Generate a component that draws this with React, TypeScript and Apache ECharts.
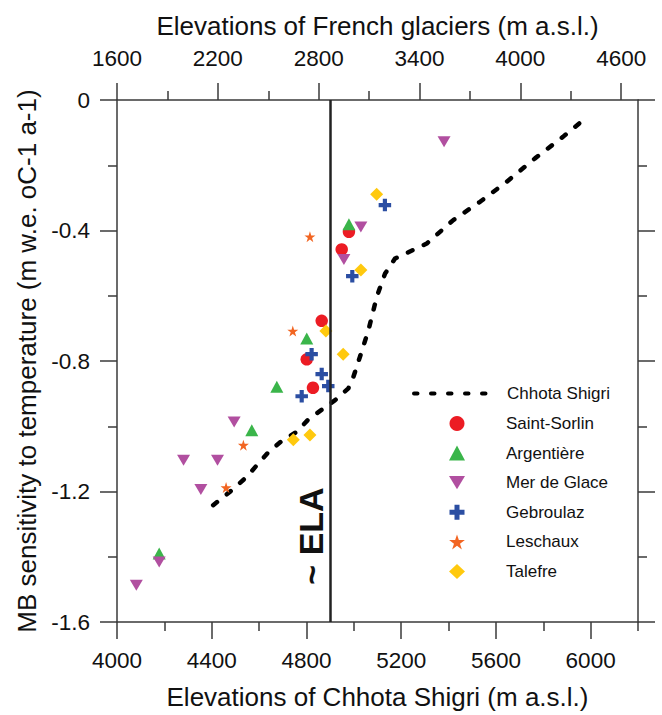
import React, { useEffect, useRef } from "react";
import * as echarts from "echarts";

// ---- Data ----
// Chhota Shigri sensitivity profile (bottom axis: elevation of Chhota Shigri)
const shigriElevation = [4406, 4485, 4548, 4591, 4640, 4696, 4759, 4808, 4865, 4921, 4977, 4998, 5026, 5062, 5097, 5132, 5174, 5308, 5420, 5533, 5645, 5765, 5883, 5955];
const shigriSensitivity = [-1.242, -1.196, -1.155, -1.119, -1.079, -1.045, -1.017, -0.979, -0.949, -0.92, -0.884, -0.849, -0.787, -0.705, -0.603, -0.532, -0.486, -0.44, -0.368, -0.312, -0.251, -0.179, -0.113, -0.07];

// French glaciers (top axis: elevation of French glaciers) [elevation, sensitivity]
const saintSorlin = [[2980, -0.404], [2937, -0.458], [2818, -0.677], [2729, -0.795], [2766, -0.882]];
const argentiere = [[2980, -0.381], [2729, -0.731], [2551, -0.879], [2402, -1.012], [1851, -1.39]];
const merDeGlace = [[3546, -0.128], [3051, -0.389], [2950, -0.489], [2297, -0.987], [1996, -1.104], [2198, -1.104], [2099, -1.194], [1851, -1.416], [1715, -1.487]];
const gebroulaz = [[3194, -0.322], [3000, -0.54], [2758, -0.779], [2818, -0.84], [2857, -0.877], [2699, -0.908]];
const leschaux = [[2748, -0.419], [2646, -0.708], [2352, -1.058], [2249, -1.188]];
const talefre = [[3145, -0.289], [3051, -0.521], [2843, -0.708], [2946, -0.779], [2649, -1.041], [2748, -1.027]];

const elaElevation = 4900;

// Tick values
const bottomMajor = [4000, 4400, 4800, 5200, 5600, 6000];
const bottomMinor = [4200, 4600, 5000, 5400, 5800, 6200];
const topMajor = [1600, 2200, 2800, 3400, 4000, 4600];
const topMinor = [1900, 2500, 3100, 3700, 4300];

const FONT = "'Liberation Sans', Arial, Helvetica, sans-serif";
const AXIS_COLOR = "#3a3a3a";
const TEXT_COLOR = "#111";

const PLUS = "path://M4,0h4v4h4v4h-4v4h-4v-4h-4v-4h4z";
const STAR = "path://M50,0L61.2,34.5L97.6,34.5L68.2,55.9L79.4,90.5L50,69.1L20.6,90.5L31.8,55.9L2.4,34.5L38.8,34.5Z";
const TRI_DOWN = "path://M0,0L12,0L6,10Z";

const tickLine = { color: AXIS_COLOR, width: 1.5 };
const labelStyle = { fontSize: 22.5, color: TEXT_COLOR, fontFamily: FONT };
const nameStyle = { fontSize: 26, color: TEXT_COLOR, fontFamily: FONT };
const plain = (v: number) => String(v);

function buildOption() {
  const scatter = (name: string, data: number[][], symbol: string, size: number | number[], color: string) => ({
    name,
    type: "scatter",
    xAxisIndex: 1,
    yAxisIndex: 0,
    data,
    symbol,
    symbolSize: size,
    itemStyle: { color, opacity: 1 },
    z: 3,
  });

  return {
    animation: false,
    backgroundColor: "#ffffff",
    textStyle: { fontFamily: FONT },
    grid: { left: 117, right: 24, top: 100, bottom: 93, outerBoundsMode: "none", containLabel: false },
    xAxis: [
      {
        type: "value",
        position: "bottom",
        min: 4000,
        max: 6200,
        name: "Elevations of Chhota Shigri (m a.s.l.)",
        nameLocation: "middle",
        nameGap: 62,
        nameTextStyle: nameStyle,
        axisLine: { show: true, onZero: false, lineStyle: tickLine },
        axisTick: { show: true, inside: false, length: 17, customValues: bottomMajor, lineStyle: tickLine },
        axisLabel: { show: true, customValues: bottomMajor, margin: 27, formatter: plain, ...labelStyle },
        splitLine: { show: false },
      },
      {
        type: "value",
        position: "top",
        min: 1600,
        max: 4700,
        name: "Elevations of French glaciers (m a.s.l.)",
        nameLocation: "middle",
        nameGap: 61,
        nameTextStyle: nameStyle,
        axisLine: { show: true, onZero: false, lineStyle: tickLine },
        axisTick: { show: true, inside: false, length: 17, customValues: topMajor, lineStyle: tickLine },
        axisLabel: { show: true, customValues: topMajor, margin: 30, formatter: plain, ...labelStyle },
        splitLine: { show: false },
      },
      {
        type: "value",
        position: "bottom",
        min: 4000,
        max: 6200,
        axisLine: { show: false, onZero: false },
        axisTick: { show: true, inside: false, length: 9, customValues: bottomMinor, lineStyle: tickLine },
        axisLabel: { show: false },
        splitLine: { show: false },
      },
      {
        type: "value",
        position: "top",
        min: 1600,
        max: 4700,
        axisLine: { show: false, onZero: false },
        axisTick: { show: true, inside: false, length: 9, customValues: topMinor, lineStyle: tickLine },
        axisLabel: { show: false },
        splitLine: { show: false },
      },
    ],
    yAxis: [
      {
        type: "value",
        position: "left",
        min: -1.6,
        max: 0,
        interval: 0.4,
        name: "MB sensitivity to temperature (m w.e. oC-1 a-1)",
        nameLocation: "middle",
        nameGap: 72,
        nameTextStyle: nameStyle,
        axisLine: { show: true, onZero: false, lineStyle: tickLine },
        axisTick: { show: true, inside: false, length: 17, lineStyle: tickLine },
        minorTick: { show: true, splitNumber: 2, length: 9, lineStyle: tickLine },
        axisLabel: { show: true, margin: 27, formatter: plain, ...labelStyle },
        splitLine: { show: false },
        minorSplitLine: { show: false },
      },
      {
        type: "value",
        position: "right",
        min: -1.6,
        max: 0,
        interval: 0.4,
        axisLine: { show: true, onZero: false, lineStyle: tickLine },
        axisTick: { show: true, inside: false, length: 17, lineStyle: tickLine },
        minorTick: { show: true, splitNumber: 2, length: 9, lineStyle: tickLine },
        axisLabel: { show: false },
        splitLine: { show: false },
        minorSplitLine: { show: false },
      },
    ],
    legend: [
      {
        data: ["Chhota Shigri"],
        left: 412,
        top: 385,
        padding: 0,
        itemWidth: 78,
        itemHeight: 16,
        selectedMode: false,
        textStyle: { fontSize: 17, color: TEXT_COLOR, fontFamily: FONT, padding: [0, 0, 0, 10] },
        lineStyle: { width: 4, type: [3.5, 13.5], cap: "round", color: "#000" },
        itemStyle: { opacity: 0 },
      },
      {
        data: ["Saint-Sorlin", "Argentière", "Mer de Glace", "Gebroulaz", "Leschaux", "Talefre"],
        orient: "vertical",
        left: 449,
        top: 415,
        padding: 0,
        itemWidth: 16,
        itemHeight: 15,
        itemGap: 12.6,
        selectedMode: false,
        textStyle: { fontSize: 17, color: TEXT_COLOR, fontFamily: FONT, padding: [0, 0, 0, 36] },
      },
    ],
    series: [
      {
        name: "Chhota Shigri",
        type: "line",
        xAxisIndex: 0,
        yAxisIndex: 0,
        data: shigriElevation.map((e, i) => [e, shigriSensitivity[i]]),
        symbol: "none",
        showSymbol: false,
        smooth: false,
        lineStyle: { color: "#000", width: 4.5, type: [5, 12.5], cap: "round", join: "round" },
        itemStyle: { color: "#000" },
        z: 2,
        markLine: {
          silent: true,
          symbol: ["none", "none"],
          label: { show: false },
          lineStyle: { color: "#222", width: 2.5, type: "solid" },
          data: [{ xAxis: elaElevation }],
        },
      },
      scatter("Saint-Sorlin", saintSorlin, "circle", 12.5, "#ec1c24"),
      scatter("Argentière", argentiere, "triangle", [13, 12], "#3ab54a"),
      scatter("Mer de Glace", merDeGlace, TRI_DOWN, [13, 11], "#b14fa0"),
      scatter("Gebroulaz", gebroulaz, PLUS, 12.5, "#2b4ea2"),
      scatter("Leschaux", leschaux, STAR, 11, "#f26522"),
      scatter("Talefre", talefre, "diamond", 13, "#ffc90e"),
    ],
    graphic: [
      {
        type: "text",
        x: 311,
        y: 536,
        rotation: Math.PI / 2,
        z: 10,
        style: {
          text: "~ ELA",
          font: `bold 34px ${FONT}`,
          fill: "#111",
          align: "center",
          verticalAlign: "middle",
        },
      },
    ],
  };
}

export default function App() {
  const ref = useRef<HTMLDivElement>(null);
  useEffect(() => {
    if (!ref.current) return;
    const chart = echarts.init(ref.current, null, { renderer: "svg" });
    chart.setOption(buildOption() as any);
    return () => chart.dispose();
  }, []);
  return (
    <div
      ref={ref}
      style={{ position: "absolute", left: 0, top: 0, width: 662, height: 715, background: "#fff" }}
    />
  );
}
